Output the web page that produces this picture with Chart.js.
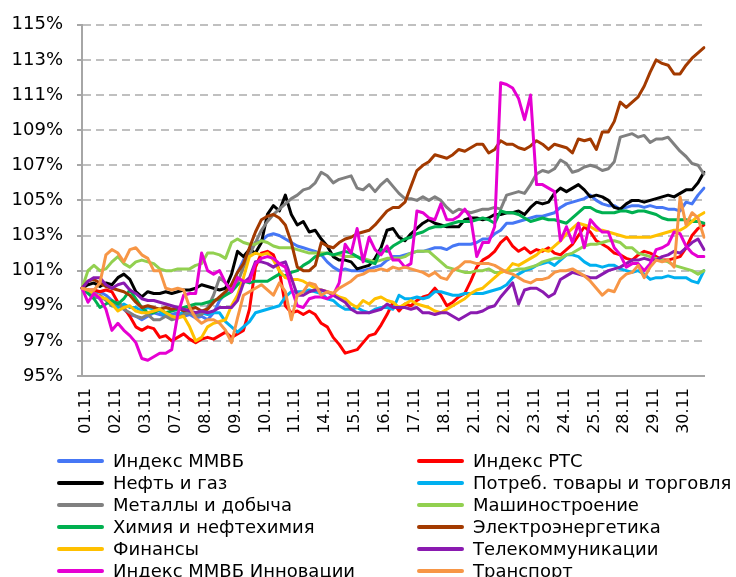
<!DOCTYPE html>
<html>
<head>
<meta charset="utf-8">
<script src="https://cdn.jsdelivr.net/npm/chart.js@4.4.0/dist/chart.umd.min.js"></script>
<style>
  body { margin: 0; background: #fff; width: 736px; height: 577px; overflow: hidden; position: relative; font-family: 'DejaVu Sans', Verdana, sans-serif; }
  #chart { position: absolute; left: 0; top: 0; }
  #legend { position: absolute; left: 0; top: 0; width: 736px; height: 577px; pointer-events: none; }
  .item { position: absolute; height: 22px; line-height: 22px; font-size: 18px; white-space: nowrap; color: #000; }
  .item i { position: absolute; top: 9px; height: 4px; border-radius: 2px; }
</style>
</head>
<body>
<canvas id="chart" width="736" height="440"></canvas>
<div id="legend"></div>
<script>
// trading days shown on the axis; each day has several intraday points
const days = ['01.11', '02.11', '03.11', '07.11', '08.11', '09.11', '10.11', '11.11', '14.11', '15.11', '16.11',
  '17.11', '18.11', '21.11', '22.11', '23.11', '24.11', '25.11', '28.11', '29.11', '30.11'];
const perDay = 5;

// values in % of the 01.11 level, 5 points per day
const mmvb = [
  100.0, 99.9, 99.7, 99.8, 99.6,  99.3, 99.0, 98.8, 98.5, 98.4,  98.2, 98.4, 98.6, 98.5, 98.4,
  98.5, 98.6, 98.4, 98.5, 98.3,  98.4, 98.2, 98.6, 99.3, 99.7,  100.2, 100.9, 101.6, 102.2, 102.6,
  102.7, 103.0, 103.1, 103.0, 102.8,  102.6, 102.4, 102.3, 102.2, 102.1,  101.9, 101.5, 101.2, 101.0, 101.1,
  101.0, 101.0, 101.0, 101.1, 101.2,  101.3, 101.6, 101.8, 101.8, 101.9,  102.0, 102.1, 102.1, 102.2, 102.3,
  102.3, 102.2, 102.4, 102.5, 102.5,  102.5, 102.6, 102.8, 102.8, 103.1,  103.3, 103.7, 103.7, 103.8, 103.9,
  104.0, 104.1, 104.1, 104.2, 104.3,  104.6, 104.8, 104.9, 105.0, 105.1,  105.3, 105.0, 104.8, 104.7, 104.7,
  104.5, 104.6, 104.7, 104.7, 104.6,  104.7, 104.6, 104.6, 104.5, 104.5,  104.4, 104.9, 104.8, 105.3, 105.7];
const rts = [
  100.0, 99.9, 99.9, 99.8, 99.9,  99.8, 99.2, 98.9, 98.4, 97.8,  97.6, 97.8, 97.7, 97.2, 97.3,
  97.0, 97.2, 97.4, 97.1, 96.9,  97.1, 97.2, 97.1, 97.3, 97.5,  97.2, 97.4, 97.6, 98.8, 101.2,
  102.0, 102.1, 101.9, 101.0, 99.0,  98.6, 98.7, 98.5, 98.7, 98.5,  98.0, 97.8, 97.2, 96.8, 96.3,
  96.4, 96.5, 96.9, 97.3, 97.4,  97.9, 98.5, 99.2, 98.7, 99.1,  99.0, 99.3, 99.5, 99.6, 100.0,
  99.6, 99.0, 99.2, 99.5, 99.7,  100.4, 101.2, 101.6, 101.8, 102.1,  102.6, 102.9, 102.4, 102.1, 102.3,
  102.0, 102.2, 102.1, 102.3, 102.0,  101.9, 102.2, 102.5, 103.0, 103.5,  103.2, 102.7, 102.5, 102.3, 102.0,
  101.9, 101.7, 101.6, 101.9, 102.1,  102.0, 101.8, 101.6, 101.6, 101.7,  101.8, 102.3, 103.0, 103.4, 103.6];
const oilGas = [
  100.0, 100.2, 100.3, 100.1, 100.3,  100.2, 100.6, 100.8, 100.5, 99.8,  99.5, 99.8, 99.7, 99.7, 99.8,
  99.7, 99.8, 99.9, 99.9, 100.0,  100.2, 100.1, 100.0, 99.9, 100.0,  100.8, 102.1, 101.8, 102.2, 102.0,
  102.6, 104.2, 104.7, 104.4, 105.3,  104.2, 103.6, 103.8, 103.2, 103.3,  102.8, 102.4, 101.8, 101.6, 101.6,
  101.5, 101.1, 101.2, 101.3, 101.7,  102.3, 103.3, 103.4, 102.9, 102.7,  103.1, 103.4, 103.7, 103.9, 103.7,
  103.6, 103.5, 103.5, 103.5, 103.9,  104.0, 104.0, 103.9, 104.0, 104.2,  104.2, 104.3, 104.3, 104.4, 104.2,
  104.6, 104.9, 104.8, 104.9, 105.4,  105.7, 105.5, 105.7, 105.9, 105.6,  105.2, 105.3, 105.2, 105.0, 104.6,
  104.5, 104.8, 105.0, 105.0, 104.9,  105.0, 105.1, 105.2, 105.3, 105.2,  105.4, 105.6, 105.6, 106.0, 106.6];
const consumer = [
  100.0, 99.8, 99.6, 99.4, 99.4,  99.0, 98.9, 99.1, 98.9, 98.9,  98.7, 98.9, 98.8, 98.7, 98.4,
  98.3, 98.4, 98.7, 98.6, 98.5,  98.6, 98.5, 98.6, 98.6, 98.1,  97.8, 97.5, 97.8, 98.1, 98.6,
  98.7, 98.8, 98.9, 99.0, 99.5,  99.8, 99.8, 99.8, 99.9, 99.8,  99.7, 99.4, 99.3, 99.0, 98.8,
  98.8, 98.9, 98.7, 98.6, 98.8,  98.9, 98.9, 98.8, 99.6, 99.4,  99.4, 99.5, 99.4, 99.5, 99.8,
  99.8, 99.7, 99.6, 99.6, 99.7,  99.7, 99.7, 99.7, 99.8, 99.9,  100.0, 100.2, 100.6, 100.8, 101.0,
  101.1, 101.3, 101.4, 101.5, 101.3,  101.6, 101.9, 101.9, 101.8, 101.5,  101.3, 101.3, 101.2, 101.3, 101.3,
  101.1, 101.0, 100.9, 101.0, 100.8,  100.5, 100.6, 100.6, 100.7, 100.6,  100.6, 100.6, 100.4, 100.3, 101.0];
const metals = [
  100.0, 99.8, 99.4, 99.6, 99.3,  99.0, 99.2, 98.8, 98.6, 98.4,  98.3, 98.5, 98.2, 98.2, 98.4,
  98.2, 98.3, 98.5, 98.6, 98.4,  98.5, 98.9, 99.6, 100.6, 100.3,  99.9, 100.3, 101.2, 101.9, 102.6,
  103.3, 103.8, 104.2, 104.5, 104.8,  105.1, 105.3, 105.6, 105.7, 106.0,  106.6, 106.4, 106.0, 106.2, 106.3,
  106.4, 105.7, 105.6, 105.9, 105.5,  105.9, 106.2, 105.8, 105.4, 105.1,  105.1, 105.0, 105.2, 105.0, 105.2,
  105.0, 104.6, 104.3, 104.5, 104.4,  104.3, 104.4, 104.5, 104.5, 104.6,  104.5, 105.3, 105.4, 105.5, 105.4,
  105.9, 106.5, 106.7, 106.6, 106.8,  107.3, 107.1, 106.6, 106.7, 106.9,  107.0, 106.9, 106.7, 106.8, 107.2,
  108.6, 108.7, 108.8, 108.6, 108.7,  108.3, 108.5, 108.5, 108.6, 108.2,  107.8, 107.5, 107.1, 107.0, 106.5];
const machinery = [
  100.0, 101.0, 101.3, 101.0, 101.1,  101.5, 101.8, 101.4, 101.2, 101.5,  101.6, 101.5, 101.4, 101.1, 101.0,
  101.0, 101.1, 101.1, 101.1, 101.3,  101.4, 102.0, 102.0, 101.9, 101.7,  102.6, 102.8, 102.6, 102.5, 102.5,
  102.7, 102.6, 102.4, 102.3, 102.3,  102.3, 102.2, 102.1, 102.0, 102.0,  102.0, 102.0, 101.9, 101.9, 101.8,
  101.8, 101.8, 101.7, 101.6, 101.5,  101.6, 101.7, 101.7, 101.7, 101.8,  102.0, 102.1, 102.1, 102.1, 101.8,
  101.5, 101.2, 101.1, 101.0, 100.9,  100.9, 101.0, 101.0, 101.1, 100.9,  100.9, 101.0, 101.0, 101.1, 101.1,
  101.2, 101.3, 101.5, 101.6, 101.7,  101.7, 101.9, 102.0, 102.2, 102.4,  102.5, 102.5, 102.6, 102.7, 102.7,
  102.6, 102.3, 102.3, 102.0, 101.9,  101.8, 101.7, 101.6, 101.5, 101.3,  101.2, 101.1, 101.0, 100.8, 101.0];
const chemistry = [
  100.0, 99.7, 99.4, 98.9, 99.1,  99.3, 99.1, 99.4, 99.9, 99.4,  98.9, 98.6, 98.6, 98.8, 98.6,
  98.7, 98.8, 98.9, 99.0, 99.1,  99.1, 99.2, 99.3, 99.4, 99.6,  99.8, 100.2, 100.4, 100.3, 100.4,
  100.4, 100.4, 100.6, 100.8, 100.7,  100.9, 101.0, 101.3, 101.5, 101.8,  101.9, 102.0, 101.9, 102.0, 102.1,
  102.0, 101.8, 101.6, 101.5, 101.4,  102.2, 102.1, 102.4, 102.6, 102.8,  102.9, 103.1, 103.2, 103.4, 103.5,
  103.5, 103.6, 103.7, 103.8, 103.8,  103.8, 103.9, 104.0, 103.9, 103.7,  104.4, 104.3, 104.3, 104.2, 104.0,
  103.8, 103.9, 104.0, 103.9, 103.9,  103.8, 103.7, 104.0, 104.3, 104.6,  104.6, 104.4, 104.3, 104.3, 104.3,
  104.4, 104.4, 104.3, 104.4, 104.4,  104.3, 104.2, 104.0, 103.9, 103.9,  103.9, 103.9, 103.8, 103.8, 103.7];
const energy = [
  100.0, 100.4, 100.5, 100.3, 100.1,  100.0, 99.9, 99.8, 99.6, 99.2,  98.9, 99.0, 98.9, 98.8, 98.9,
  98.8, 98.9, 98.7, 98.8, 98.9,  98.7, 98.8, 99.2, 99.5, 99.8,  100.2, 100.9, 101.4, 102.3, 103.2,
  103.9, 104.1, 104.2, 104.0, 103.6,  102.6, 101.2, 101.0, 101.0, 101.3,  102.6, 102.4, 102.3, 102.6, 102.8,
  102.9, 103.1, 103.2, 103.3, 103.6,  104.0, 104.4, 104.6, 104.6, 104.9,  105.8, 106.7, 107.0, 107.2, 107.6,
  107.5, 107.4, 107.6, 107.9, 107.8,  108.0, 108.2, 108.2, 107.7, 107.9,  108.4, 108.2, 108.2, 108.0, 107.9,
  108.1, 108.4, 108.2, 107.9, 108.2,  108.1, 108.0, 107.7, 108.5, 108.4,  108.5, 107.9, 108.9, 108.9, 109.5,
  110.6, 110.3, 110.6, 110.9, 111.5,  112.3, 113.0, 112.8, 112.7, 112.2,  112.2, 112.7, 113.1, 113.4, 113.7];
const finance = [
  100.0, 99.9, 99.7, 99.5, 99.4,  99.1, 98.7, 98.9, 99.0, 98.7,  98.6, 98.6, 98.7, 98.8, 98.6,
  98.4, 98.3, 98.4, 97.8, 97.0,  97.2, 97.8, 98.0, 98.1, 98.2,  99.0, 99.6, 100.6, 101.8, 102.0,
  101.9, 102.0, 101.6, 101.0, 100.6,  100.5, 100.5, 100.4, 100.2, 100.0,  99.9, 99.8, 99.7, 99.5, 99.4,
  99.1, 98.9, 99.3, 99.1, 99.4,  99.5, 99.3, 99.2, 98.9, 99.1,  99.3, 99.1, 99.0, 98.9, 98.7,
  98.6, 98.8, 99.0, 99.2, 99.4,  99.7, 99.9, 100.0, 100.3, 100.6,  100.9, 101.0, 101.4, 101.3, 101.5,
  101.7, 101.9, 102.2, 102.1, 102.4,  102.7, 103.1, 103.4, 103.7, 103.6,  103.5, 103.3, 103.3, 103.2, 103.1,
  103.0, 102.9, 102.9, 102.9, 102.9,  102.9, 103.0, 103.1, 103.2, 103.3,  103.3, 103.5, 103.8, 104.1, 104.3];
const telecom = [
  100.0, 100.4, 100.6, 100.6, 100.2,  100.0, 100.2, 100.3, 99.9, 99.7,  99.4, 99.3, 99.3, 99.2, 99.1,
  99.0, 98.9, 98.8, 98.7, 98.6,  98.7, 98.6, 98.7, 98.9, 98.9,  98.9, 99.3, 100.3, 100.6, 101.5,
  101.5, 101.4, 101.2, 101.4, 101.5,  100.6, 99.6, 99.6, 99.8, 99.9,  99.9, 99.8, 99.6, 99.4, 99.2,
  98.8, 98.6, 98.6, 98.6, 98.7,  98.8, 99.1, 98.9, 98.9, 98.9,  98.8, 98.9, 98.6, 98.6, 98.5,
  98.6, 98.6, 98.4, 98.2, 98.4,  98.6, 98.6, 98.7, 98.9, 99.0,  99.5, 99.9, 100.3, 99.1, 99.9,
  100.0, 100.0, 99.8, 99.5, 99.7,  100.5, 100.7, 100.9, 100.8, 100.7,  100.6, 100.6, 100.8, 101.0, 101.1,
  101.2, 101.4, 101.6, 101.6, 101.7,  101.6, 101.6, 101.8, 101.9, 102.1,  102.0, 102.3, 102.6, 102.8, 102.2];
const innovation = [
  100.0, 99.2, 99.7, 99.4, 98.8,  97.6, 98.0, 97.6, 97.3, 96.9,  96.0, 95.9, 96.1, 96.3, 96.3,
  96.5, 98.5, 99.6, 99.7, 99.7,  102.0, 101.0, 100.8, 101.0, 100.3,  99.8, 100.6, 100.4, 100.4, 101.4,
  101.7, 101.8, 101.7, 101.4, 101.2,  100.0, 99.0, 98.9, 99.4, 99.5,  99.5, 99.4, 99.6, 100.3, 102.5,
  102.0, 103.4, 101.5, 102.9, 102.2,  101.9, 102.4, 101.6, 101.6, 101.2,  101.4, 104.4, 104.3, 104.0, 103.9,
  104.8, 103.9, 103.9, 104.1, 104.5,  104.0, 101.8, 102.6, 102.6, 103.5,  111.7, 111.6, 111.4, 110.8, 109.6,
  111.0, 105.9, 105.9, 105.7, 105.5,  102.7, 103.5, 102.6, 103.7, 102.3,  103.9, 103.5, 103.2, 103.2, 102.3,
  101.9, 101.2, 101.4, 101.4, 101.0,  101.4, 102.2, 102.3, 102.5, 103.2,  103.1, 102.4, 102.0, 101.8, 101.8];
const transport = [
  100.0, 99.9, 99.9, 100.3, 101.9,  102.2, 102.0, 101.5, 102.2, 102.3,  101.9, 101.7, 101.0, 101.0, 100.0,
  99.9, 100.0, 99.9, 98.9, 98.3,  98.0, 98.2, 98.2, 98.0, 97.6,  96.9, 98.3, 99.6, 99.8, 100.0,
  100.2, 99.9, 99.6, 100.3, 99.8,  98.2, 99.6, 99.8, 100.3, 100.2,  99.6, 99.8, 99.7, 100.0, 100.2,
  100.4, 100.7, 100.8, 101.0, 101.0,  101.1, 101.0, 101.2, 101.1, 101.2,  101.1, 101.0, 100.9, 100.7, 100.9,
  100.6, 100.5, 101.0, 101.2, 101.5,  101.5, 101.4, 101.4, 101.4, 101.3,  101.1, 100.9, 100.8, 100.6, 100.4,
  100.3, 100.5, 100.5, 100.6, 100.9,  101.0, 101.0, 101.1, 100.9, 100.7,  100.4, 100.0, 99.6, 99.9, 99.8,
  100.5, 100.8, 100.9, 101.3, 100.6,  101.2, 101.6, 101.5, 101.6, 101.2,  105.2, 103.6, 104.3, 104.0, 102.9];

const seriesNames = ['Индекс ММВБ', 'Индекс РТС', 'Нефть и газ', 'Потреб. товары и торговля', 'Металлы и добыча',
  'Машиностроение', 'Химия  и нефтехимия', 'Электроэнергетика', 'Финансы', 'Телекоммуникации',
  'Индекс ММВБ Инновации', 'Транспорт'];
const seriesData = [mmvb, rts, oilGas, consumer, metals, machinery, chemistry, energy, finance, telecom, innovation, transport];
const seriesColors = ['#4677F5', '#FF0000', '#000000', '#00B0F0', '#808080', '#92D050', '#00B050', '#A33A00',
  '#FFC000', '#8A1AB0', '#E600D2', '#F79646'];

const yTicks = [95, 97, 99, 101, 103, 105, 107, 109, 111, 113, 115];

const labels = [];
days.forEach(d => { for (let k = 0; k < perDay; k++) labels.push(d); });

Chart.defaults.font.family = "'DejaVu Sans', Verdana, sans-serif";
Chart.defaults.color = '#000';

const datasets = seriesNames.map((name, i) => ({
  label: name,
  data: seriesData[i],
  borderColor: seriesColors[i],
  backgroundColor: seriesColors[i],
  borderWidth: 3,
  pointRadius: 0,
  tension: 0,
  borderJoinStyle: 'round',
  borderCapStyle: 'round',
  order: seriesNames.length - i
}));

new Chart(document.getElementById('chart'), {
  type: 'line',
  data: { labels: labels, datasets: datasets },
  options: {
    responsive: false,
    animation: false,
    layout: { padding: { left: 0, right: 32, top: 24, bottom: 4 } },
    plugins: { legend: { display: false }, tooltip: { enabled: false } },
    scales: {
      x: {
        type: 'category',
        offset: false,
        grid: { display: false, drawTicks: false },
        border: { display: true, color: '#A6A6A6', width: 2 },
        ticks: {
          autoSkip: false,
          minRotation: 90,
          maxRotation: 90,
          padding: 12,
          labelOffset: 4,
          font: { size: 16 },
          callback: function(v, i) { return i % perDay === 0 ? this.getLabelForValue(v) : ''; }
        },
        afterFit: s => { s.height = 60; }
      },
      y: {
        min: 95,
        max: 115,
        afterBuildTicks: s => { s.ticks = yTicks.map(v => ({ value: v })); },
        ticks: { padding: 14, font: { size: 18 }, callback: v => v + '%' },
        grid: {
          color: c => (c.tick && c.tick.value === 95) ? 'rgba(0,0,0,0)' : '#C0C0C0',
          lineWidth: 2,
          tickLength: 5,
          tickColor: '#A6A6A6',
          tickWidth: 2,
          tickBorderDash: []
        },
        border: { display: true, color: '#A6A6A6', width: 2, dash: [8, 5] },
        afterFit: s => { s.width = 82; }
      }
    }
  }
});

// two-column legend under the chart
const legend = document.getElementById('legend');
seriesNames.forEach((name, i) => {
  const col = i % 2, row = Math.floor(i / 2);
  const item = document.createElement('div');
  item.className = 'item';
  item.style.left = (col ? 417 : 57) + 'px';
  item.style.top = (450 + row * 22) + 'px';
  item.style.paddingLeft = '56px';
  const line = document.createElement('i');
  line.style.left = '0px';
  line.style.width = '47px';
  line.style.background = seriesColors[i];
  item.appendChild(line);
  item.appendChild(document.createTextNode(name));
  legend.appendChild(item);
});
</script>
</body>
</html>
